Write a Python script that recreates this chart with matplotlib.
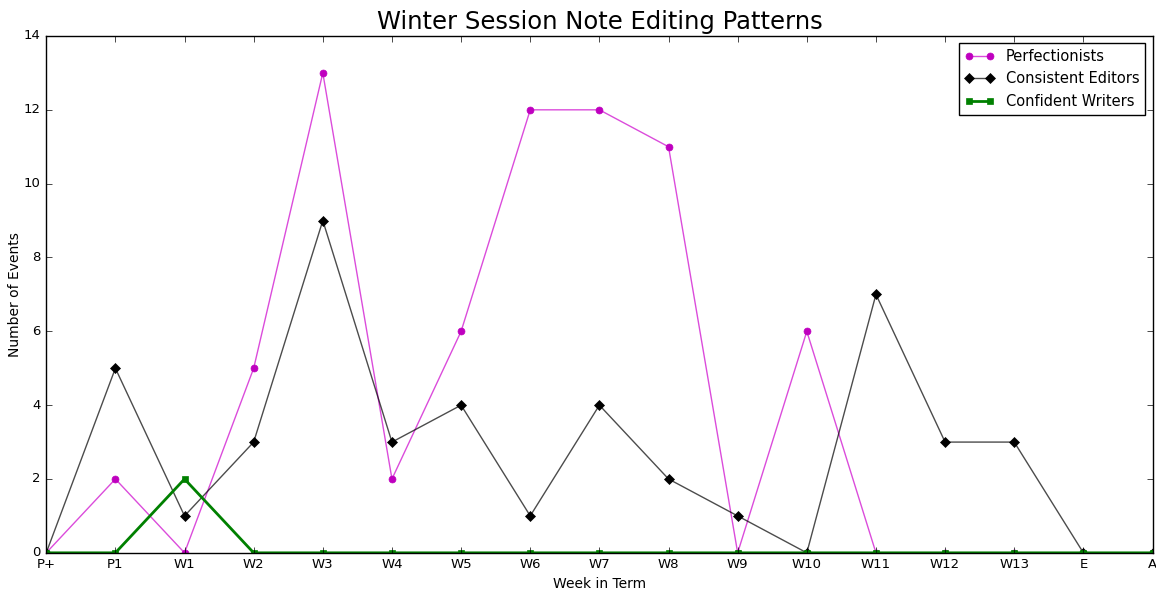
import matplotlib
matplotlib.use('Agg')
import matplotlib.pyplot as plt
import numpy as np

weeks = ['P+', 'P1', 'W1', 'W2', 'W3', 'W4', 'W5', 'W6', 'W7', 'W8',
         'W9', 'W10', 'W11', 'W12', 'W13', 'E', 'A']
perfectionists = [0, 2, 0, 5, 13, 2, 6, 12, 12, 11, 0, 6, 0, 0, 0, 0, 0]
consistent_editors = [0, 5, 1, 3, 9, 3, 4, 1, 4, 2, 1, 0, 7, 3, 3, 0, 0]
confident_writers = [0, 0, 2, 0, 0, 0, 0, 0, 0, 0, 0, 0, 0, 0, 0, 0, 0]

plt.style.use('classic')
fig = plt.figure(figsize=(11.56, 5.9), dpi=100, facecolor='white')
ax = fig.add_subplot(111)
fig.subplots_adjust(left=0.040, right=0.997, top=0.939, bottom=0.063)

x = np.arange(len(weeks))
ax.plot(x, perfectionists, color=(0.8, 0.0, 0.8, 0.7), marker='o', markersize=5,
        markerfacecolor='m', markeredgecolor='m', label='Perfectionists')
ax.plot(x, consistent_editors, color=(0, 0, 0, 0.7), marker='D', markersize=5,
        markerfacecolor='k', markeredgecolor='k', label='Consistent Editors')
ax.plot(x, confident_writers, color='g', marker='s', markersize=5,
        markeredgecolor='g', linewidth=2, label='Confident Writers')

ax.set_xticks(x)
ax.set_xticklabels(weeks)
ax.set_xlim(0, len(weeks) - 1)
ax.set_ylim(0, 14)
ax.tick_params(labelsize=9.5)
ax.set_xlabel('Week in Term', fontsize=10, labelpad=4)
ax.set_ylabel('Number of Events', fontsize=10, labelpad=1)
ax.set_title('Winter Session Note Editing Patterns', fontsize=17.5)
ax.legend(loc='upper right', fontsize=10.5, numpoints=2)

plt.savefig('out.png', dpi=100, facecolor='white')
